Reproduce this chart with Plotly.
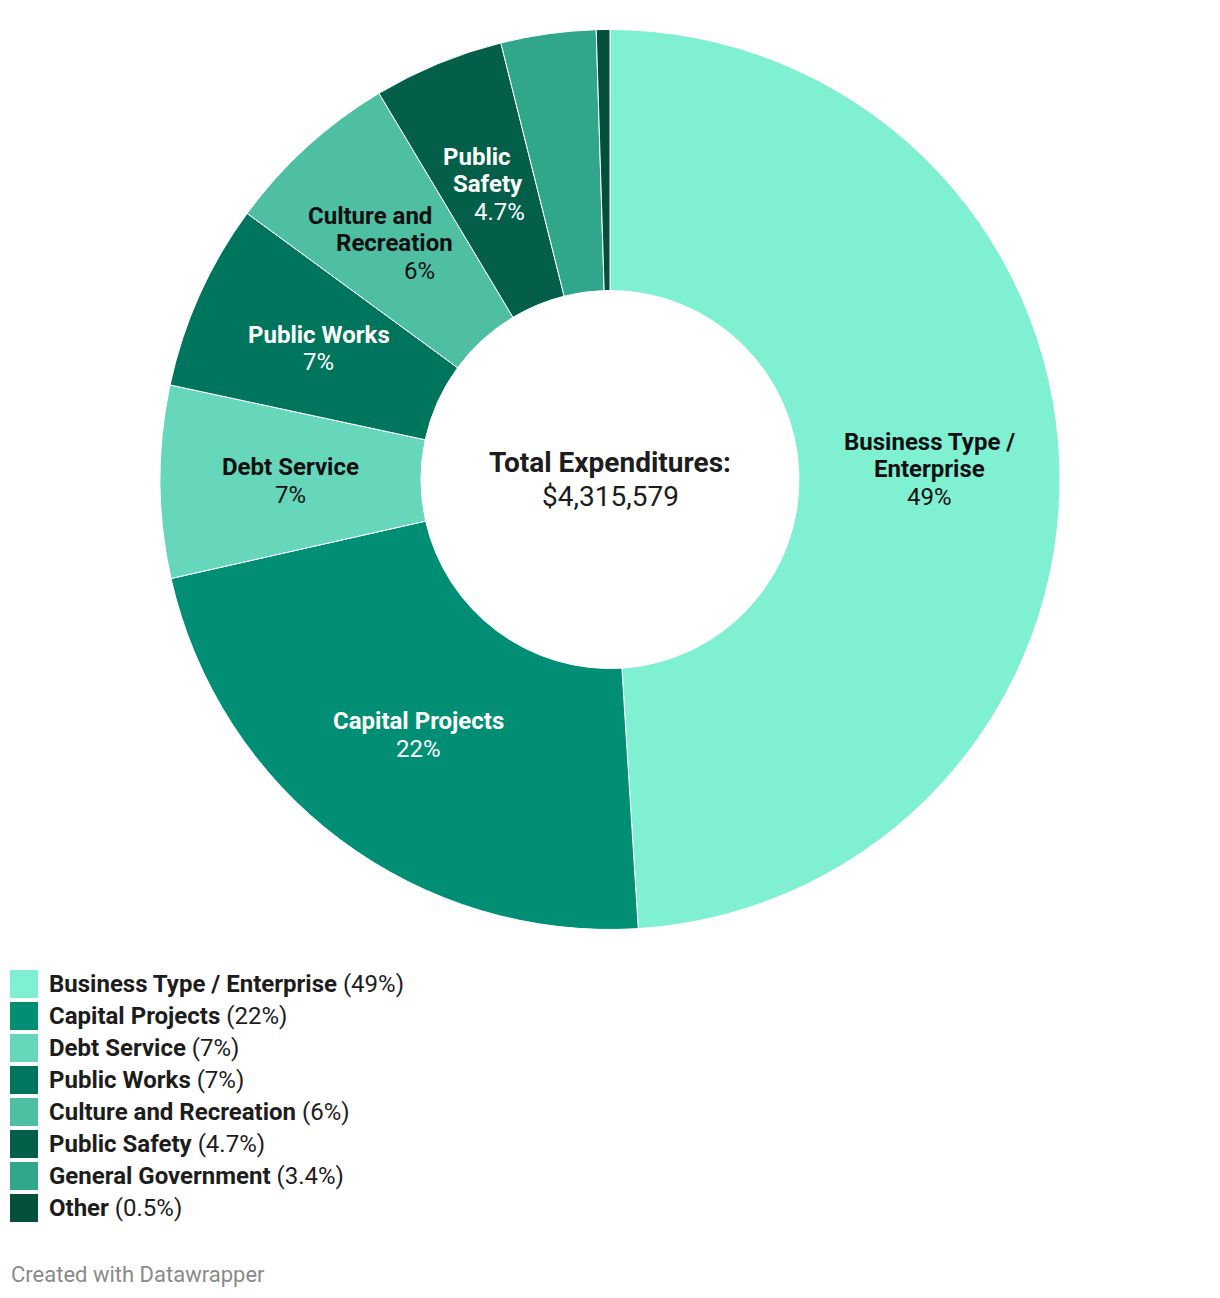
import math
import plotly.graph_objects as go

# ---- data ----
categories = ["Business Type / Enterprise", "Capital Projects", "Debt Service", "Public Works",
              "Culture and Recreation", "Public Safety", "General Government", "Other"]
amounts = [2114600, 969700, 297800, 289200, 274000, 202000, 147200, 21079]
pct_labels = ["49%", "22%", "7%", "7%", "6%", "4.7%", "3.4%", "0.5%"]
slice_label_lines = [["Business Type /", "Enterprise"], ["Capital Projects"], ["Debt Service"], ["Public Works"],
                     ["Culture and", "Recreation"], ["Public", "Safety"], None, None]
colors = ["#7ff0d2", "#008f74", "#66d7bb", "#00755d", "#4ebfa2", "#035f4a", "#30a78a", "#044f3b"]
label_colors = ["#111111", "#ffffff", "#111111", "#ffffff", "#111111", "#ffffff", None, None]
total_text = "$4,315,579"
center_title = "Total Expenditures:"

# page body has an 8px margin; work in reference pixel coords and shift
OFF = 8
W, H = 1220 - OFF, 1298 - OFF
cx_ref, cy_ref, r_px = 610, 479.5, 450
hole = 0.42


def px(x):
    return (x - OFF) / W


def py(y):
    return 1 - (y - OFF) / H


dom_x = [px(cx_ref - r_px), px(cx_ref + r_px)]
dom_y = [py(cy_ref + r_px), py(cy_ref - r_px)]

fig = go.Figure()
fig.add_trace(go.Pie(
    labels=categories, values=amounts, hole=hole, sort=False, direction="clockwise",
    rotation=0, textinfo="none", hoverinfo="label+percent",
    marker=dict(colors=colors, line=dict(color="white", width=1)),
    domain=dict(x=dom_x, y=dom_y), showlegend=False,
))

annotations = []


def add_lines(x_ref, y_ref, lines, size, color, spacing, slope=0.0):
    n = len(lines)
    for k, (txt, bold) in enumerate(lines):
        dy = (k - (n - 1) / 2) * spacing
        annotations.append(dict(
            x=px(x_ref + dy * slope), y=py(y_ref + dy), xref="paper", yref="paper", showarrow=False,
            text=f"<b>{txt}</b>" if bold else txt,
            font=dict(family="Roboto", size=size, color=color),
            xanchor="center", yanchor="middle", align="center",
        ))


# slice labels placed at mid-ring radius from cumulative data angles
total = sum(amounts)
cum = 0
r_mid = r_px * (1 + hole) / 2
for i, v in enumerate(amounts):
    start = cum / total
    cum += v
    end = cum / total
    if slice_label_lines[i] is None:
        continue
    frac = end - start
    theta = (start + end) / 2 * 2 * math.pi
    x_ref = cx_ref + r_mid * math.sin(theta)
    y_ref = cy_ref - r_mid * math.cos(theta)
    # narrow, near-vertical slices: stack lines along the slice's centre line
    slope = -math.tan(theta) if (abs(math.cos(theta)) > 0.7 and frac < 0.1) else 0.0
    lines = [(t, True) for t in slice_label_lines[i]] + [(pct_labels[i], False)]
    add_lines(x_ref, y_ref, lines, 24, label_colors[i], 27.5, slope)

# center text
add_lines(cx_ref, cy_ref, [(center_title, True), (total_text, False)], 28, "#1d1d1d", 35)

# custom legend
shapes = []
row0, pitch, sq = 984, 32, 28
for i, name in enumerate(categories):
    yc = row0 + i * pitch
    shapes.append(dict(
        type="rect", xref="paper", yref="paper",
        x0=px(10), x1=px(10 + sq), y0=py(yc + sq / 2), y1=py(yc - sq / 2),
        fillcolor=colors[i], line=dict(width=0),
    ))
    annotations.append(dict(
        x=px(47), y=py(yc), xref="paper", yref="paper", showarrow=False,
        text=f"<b>{name}</b> ({pct_labels[i]})",
        font=dict(family="Roboto", size=24, color="#1d1d1d"),
        xanchor="left", yanchor="middle", align="left",
    ))

annotations.append(dict(
    x=px(9), y=py(1274), xref="paper", yref="paper", showarrow=False,
    text="Created with Datawrapper",
    font=dict(family="Roboto", size=22, color="#8a8a8a"),
    xanchor="left", yanchor="middle", align="left",
))

fig.update_layout(
    width=W, height=H, margin=dict(l=0, r=0, t=0, b=0),
    paper_bgcolor="white", plot_bgcolor="white",
    annotations=annotations, shapes=shapes,
    font=dict(family="Roboto"),
)

fig.write_html("out.html")
